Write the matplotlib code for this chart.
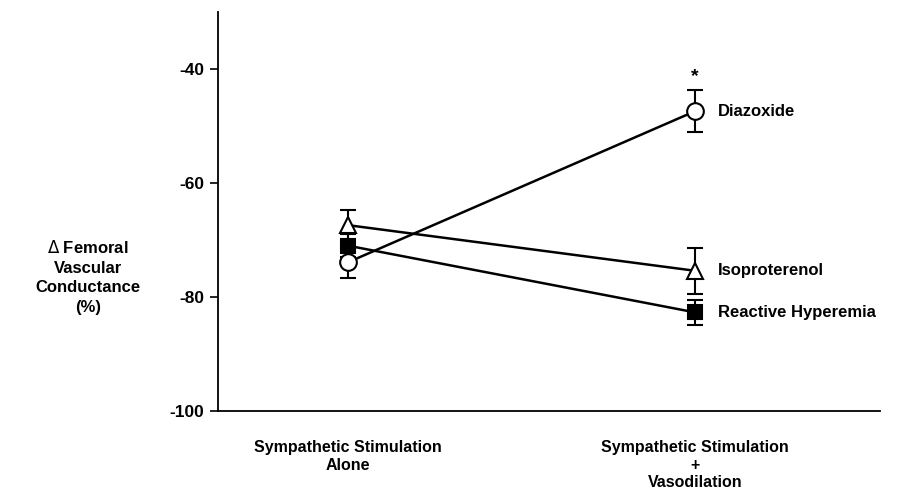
import matplotlib
matplotlib.use('Agg')
import matplotlib.pyplot as plt
import numpy as np

plt.rcParams['font.family'] = ['Liberation Sans', 'DejaVu Sans']
plt.rcParams['axes.unicode_minus'] = False

# data
conditions = ['Sympathetic Stimulation\nAlone', 'Sympathetic Stimulation\n+\nVasodilation']
series = ['Diazoxide', 'Isoproterenol', 'Reactive Hyperemia']
diazoxide = [-73.9, -47.4]
diazoxide_err = [2.7, 3.7]
isoproterenol = [-67.4, -75.4]
isoproterenol_err = [2.7, 4.0]
reactive = [-71.0, -82.7]
reactive_err = [2.0, 2.2]
yticks = [-40, -60, -80, -100]

fig = plt.figure(figsize=(9.04, 4.96), dpi=100)
ax = fig.add_axes([218/904, 85/496, 662/904, 399/496])

x = np.arange(len(conditions))
styles = [
    (diazoxide, diazoxide_err, 'o', 'white', 12),
    (isoproterenol, isoproterenol_err, '^', 'white', 12),
    (reactive, reactive_err, 's', 'black', 10),
]
for vals, err, mk, fc, ms in styles:
    ax.errorbar(x, vals, yerr=err, color='black', lw=1.8, marker=mk, ms=ms,
                mfc=fc, mec='black', mew=1.5, capsize=6, capthick=1.5,
                elinewidth=1.5)

for name, vals in zip(series, [diazoxide, isoproterenol, reactive]):
    ax.text(x[1] + 0.065, vals[1], name, fontsize=12, fontweight='bold',
            va='center', ha='left')

ax.text(x[1], diazoxide[1] + diazoxide_err[1] + 2.3, '*', fontsize=14,
        fontweight='bold', ha='center', va='center')

ax.set_xlim(-0.375, -0.375 + 662/347)
ax.set_ylim(-100, -30)
ax.set_yticks(yticks)
ax.set_yticklabels([str(t) for t in yticks], fontsize=12.5, fontweight='bold')
ax.tick_params(axis='y', direction='out', length=6, width=1.2, pad=4)
ax.set_xticks(x)
ax.set_xticklabels(conditions, fontsize=11.5, fontweight='bold',
                   multialignment='center', linespacing=1.22)
ax.tick_params(axis='x', length=0, pad=21)

ax.spines['top'].set_visible(False)
ax.spines['right'].set_visible(False)
ax.spines['left'].set_linewidth(1.3)
ax.spines['bottom'].set_linewidth(1.3)

fig.text(88/904, 1 - 277/496, '$\\Delta$ Femoral\nVascular\nConductance\n(%)',
         fontsize=12, fontweight='bold', ha='center', va='center',
         multialignment='center', linespacing=1.4)

fig.savefig('out.png', dpi=100)
